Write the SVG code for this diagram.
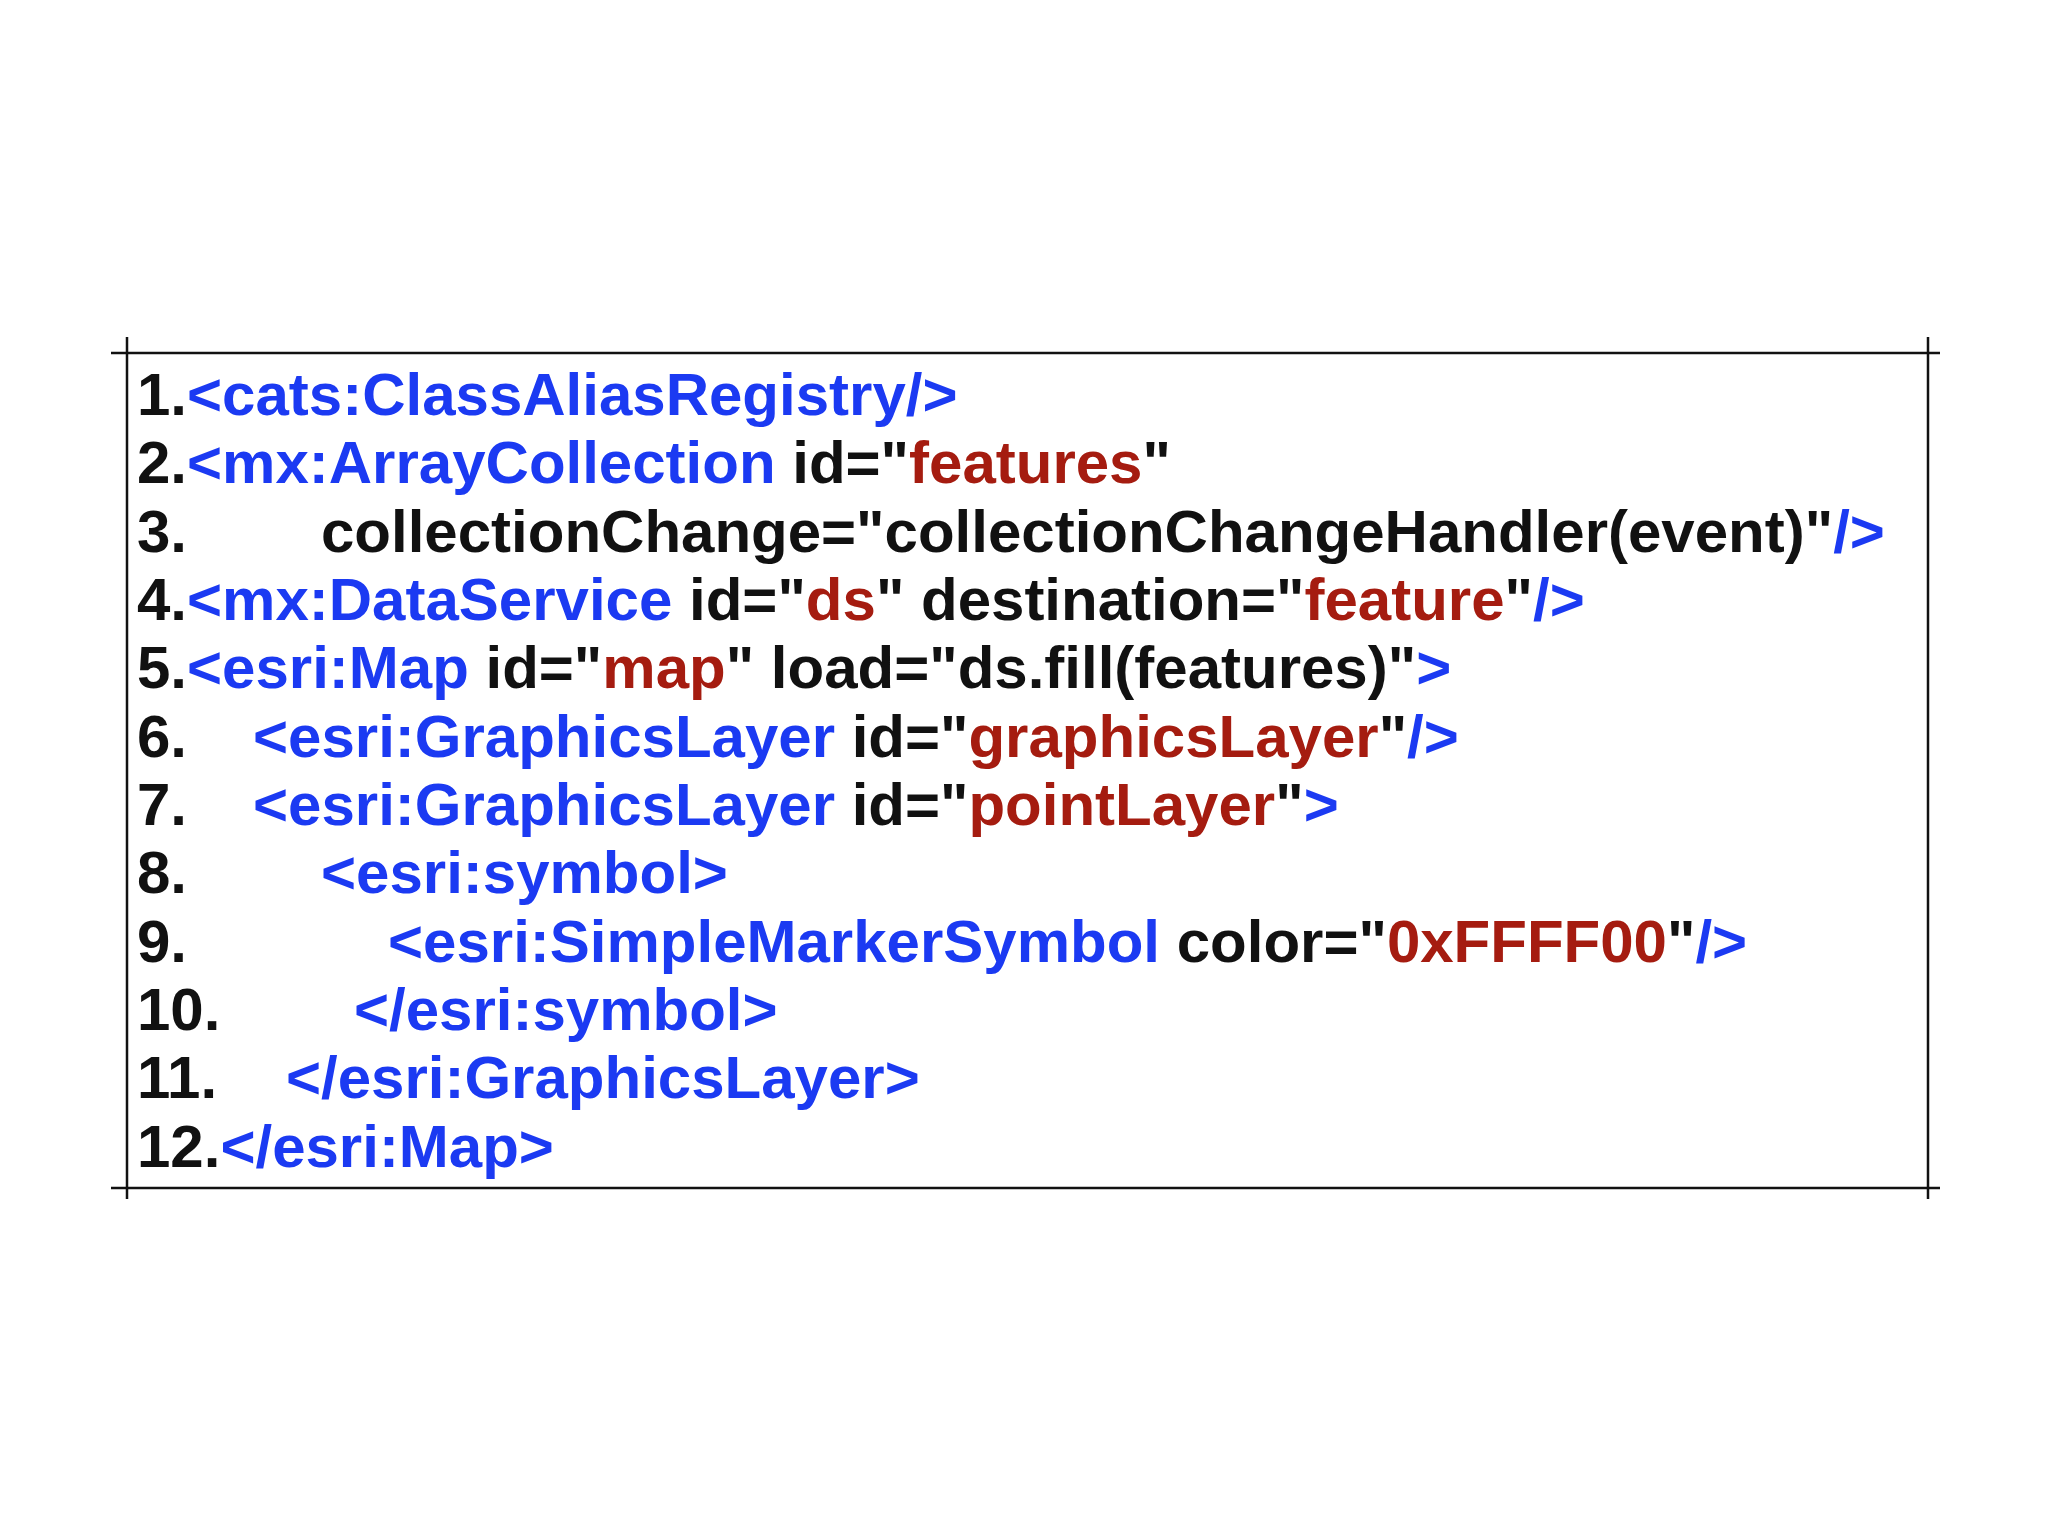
<svg xmlns="http://www.w3.org/2000/svg" width="2048" height="1536" viewBox="0 0 2048 1536">
<style>
text{font-family:"Liberation Sans",Arial,sans-serif;font-weight:bold;font-size:60px;fill:#111}
.b{fill:#1b3af2}.r{fill:#a51c10}
line{stroke:#111;stroke-width:2.5}
</style>
<rect width="2048" height="1536" fill="#fff"/>
<g id="frame">
<line x1="111" y1="353" x2="1940" y2="353"/>
<line x1="111" y1="1188" x2="1940" y2="1188"/>
<line x1="127" y1="337" x2="127" y2="1199"/>
<line x1="1928" y1="337" x2="1928" y2="1199"/>
</g>
<g id="code">
<text x="137" y="415">1.<tspan class="b">&lt;cats:ClassAliasRegistry/&gt;</tspan></text>
<text x="137" y="483">2.<tspan class="b">&lt;mx:ArrayCollection</tspan> id="<tspan class="r">features</tspan>"</text>
<text x="137" y="552">3.<tspan x="321">collectionChange="collectionChangeHandler(event)"</tspan><tspan class="b">/&gt;</tspan></text>
<text x="137" y="620">4.<tspan class="b">&lt;mx:DataService</tspan> id="<tspan class="r">ds</tspan>" destination="<tspan class="r">feature</tspan>"<tspan class="b">/&gt;</tspan></text>
<text x="137" y="688">5.<tspan class="b">&lt;esri:Map</tspan> id="<tspan class="r">map</tspan>" load="ds.fill(features)"<tspan class="b">&gt;</tspan></text>
<text x="137" y="757">6.<tspan x="253" class="b">&lt;esri:GraphicsLayer</tspan> id="<tspan class="r">graphicsLayer</tspan>"<tspan class="b">/&gt;</tspan></text>
<text x="137" y="825">7.<tspan x="253" class="b">&lt;esri:GraphicsLayer</tspan> id="<tspan class="r">pointLayer</tspan>"<tspan class="b">&gt;</tspan></text>
<text x="137" y="893">8.<tspan x="321" class="b">&lt;esri:symbol&gt;</tspan></text>
<text x="137" y="962">9.<tspan x="388" class="b">&lt;esri:SimpleMarkerSymbol</tspan> color="<tspan class="r">0xFFFF00</tspan>"<tspan class="b">/&gt;</tspan></text>
<text x="137" y="1030">10.<tspan x="354" class="b">&lt;/esri:symbol&gt;</tspan></text>
<text x="137" y="1098">11.<tspan x="286" class="b">&lt;/esri:GraphicsLayer&gt;</tspan></text>
<text x="137" y="1167">12.<tspan class="b">&lt;/esri:Map&gt;</tspan></text>
</g>
</svg>
